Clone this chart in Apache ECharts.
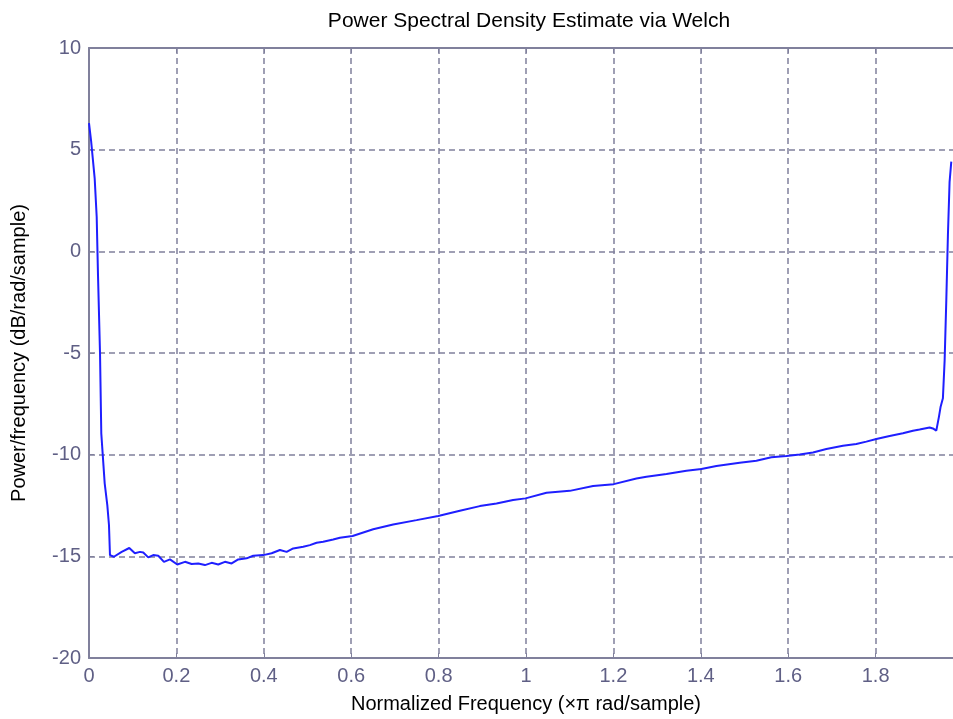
<!DOCTYPE html>
<html>
<head>
<meta charset="utf-8">
<script src="https://cdn.jsdelivr.net/npm/echarts@6/dist/echarts.min.js"></script>
<style>
  html, body { margin: 0; padding: 0; background: #ffffff; }
  #psd-chart { width: 953px; height: 719px; }
</style>
</head>
<body>
<div id="psd-chart"></div>
<script>
// normalized frequency (x pi rad/sample)
const freq = [
    0, 0.005, 0.013, 0.0176, 0.0206, 0.0252, 0.0281, 0.0359, 0.0419, 0.0457, 0.048, 0.057,
    0.0748, 0.0922, 0.105, 0.1167, 0.1242, 0.1356, 0.147, 0.1585, 0.1715, 0.1853, 0.202,
    0.2196, 0.2349, 0.25, 0.2653, 0.2806, 0.2957, 0.311, 0.3264, 0.3415, 0.3607, 0.3758,
    0.3987, 0.4179, 0.4369, 0.4522, 0.4673, 0.4902, 0.5055, 0.5208, 0.5359, 0.5588, 0.5741,
    0.6032, 0.6503, 0.696, 0.7495, 0.799, 0.8486, 0.8943, 0.9325, 0.9705, 0.9989, 1.0469,
    1.1002, 1.1535, 1.2008, 1.2527, 1.2756, 1.3214, 1.3671, 1.4014, 1.4357, 1.489, 1.5272,
    1.5615, 1.5958, 1.6263, 1.6567, 1.6873, 1.7253, 1.7559, 1.7788, 1.8017, 1.8321, 1.8625,
    1.8854, 1.9007, 1.9236, 1.9311, 1.9389, 1.9449, 1.9488, 1.954, 1.958, 1.9618, 1.9655,
    1.9693, 1.9732
];
// power/frequency (dB/rad/sample)
const psd = [
    6.30, 5.39, 3.59, 1.70, -1.17, -5.0, -8.95, -11.41, -12.48, -13.46, -14.94, -15.02,
    -14.78, -14.59, -14.85, -14.78, -14.81, -15.05, -14.94, -14.97, -15.27, -15.15, -15.40,
    -15.27, -15.38, -15.35, -15.43, -15.32, -15.40, -15.27, -15.35, -15.15, -15.10, -14.97,
    -14.94, -14.85, -14.69, -14.78, -14.61, -14.53, -14.45, -14.33, -14.28, -14.17, -14.09,
    -14.00, -13.67, -13.43, -13.22, -13.02, -12.76, -12.53, -12.40, -12.23, -12.15, -11.87,
    -11.78, -11.54, -11.45, -11.17, -11.09, -10.95, -10.79, -10.71, -10.56, -10.40, -10.30,
    -10.13, -10.07, -9.99, -9.89, -9.72, -9.56, -9.48, -9.36, -9.23, -9.08, -8.95,
    -8.82, -8.76, -8.66, -8.71, -8.82, -8.14, -7.64, -7.23, -5.35, -2.40, 0.80,
    3.42, 4.41
];
const xTicks = [0, 0.2, 0.4, 0.6, 0.8, 1, 1.2, 1.4, 1.6, 1.8];
const yTicks = [-20, -15, -10, -5, 0, 5, 10];

const psdChart = echarts.init(document.getElementById("psd-chart"));

const axisColor = '#80809c';
const labelColor = '#5f5f85';
const fontFamily = 'Liberation Sans, Arial, sans-serif';

const points = freq.map(function (f, i) {
    return [f, psd[i]];
});

// only label the ticks that show in the picture (2 falls off the right edge)
function tickText(v) {
    const r = Math.round(v * 10) / 10;
    return xTicks.indexOf(r) >= 0 ? String(r) : '';
}

const option = {
    backgroundColor: '#ffffff',
    animation: false,
    title: {
        text: 'Power Spectral Density Estimate via Welch',
        left: 524,
        top: 6,
        textAlign: 'center',
        textStyle: { color: '#000000', fontWeight: 'normal', fontSize: 21, fontFamily: fontFamily }
    },
    grid: { left: 89, right: -10, top: 48, bottom: 61, outerBoundsMode: 'none' },
    xAxis: [{
        type: 'value',
        min: 0,
        max: 2,
        interval: 0.2,
        name: 'Normalized Frequency (\u00d7\u03c0 rad/sample)',
        nameLocation: 'middle',
        nameGap: 36,
        nameTextStyle: { color: '#000000', fontSize: 20, fontFamily: fontFamily },
        axisLine: { onZero: false, lineStyle: { color: axisColor, width: 2 } },
        axisTick: { inside: true, length: 5, lineStyle: { color: axisColor } },
        axisLabel: { color: labelColor, fontSize: 20, fontFamily: fontFamily, margin: 8, formatter: tickText },
        splitLine: { show: true, lineStyle: { color: axisColor, type: [6, 4], width: 1.5 } }
    }, {
        type: 'value',
        position: 'top',
        min: 0,
        max: 2,
        interval: 0.2,
        axisLine: { onZero: false, lineStyle: { color: axisColor, width: 2 } },
        axisTick: { inside: true, length: 5, lineStyle: { color: axisColor } },
        axisLabel: { show: false },
        splitLine: { show: false }
    }],
    yAxis: {
        type: 'value',
        min: -20,
        max: 10,
        interval: 5,
        name: 'Power/frequency (dB/rad/sample)',
        nameLocation: 'middle',
        nameGap: 60,
        nameTextStyle: { color: '#000000', fontSize: 20, fontFamily: fontFamily },
        axisLine: { show: true, onZero: false, lineStyle: { color: axisColor, width: 2 } },
        axisTick: { show: true, inside: true, length: 5, lineStyle: { color: axisColor } },
        axisLabel: { color: labelColor, fontSize: 20, fontFamily: fontFamily, margin: 8 },
        splitLine: { show: true, lineStyle: { color: axisColor, type: [6, 4], width: 1.5 } }
    },
    series: [{
        name: 'PSD',
        type: 'line',
        data: points,
        showSymbol: false,
        lineStyle: { color: '#1f1fff', width: 2 },
        itemStyle: { color: '#1f1fff' }
    }]
};

psdChart.setOption(option);
</script>
</body>
</html>
